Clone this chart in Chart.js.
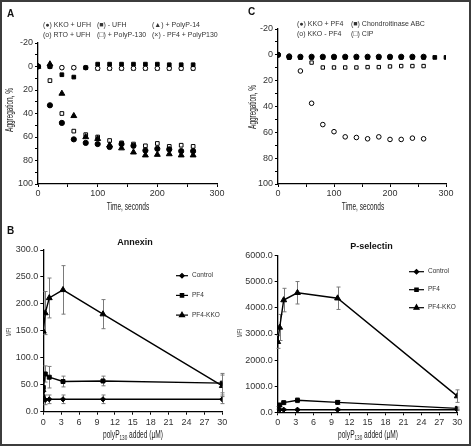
<!DOCTYPE html>
<html><head><meta charset="utf-8">
<script src="https://cdn.jsdelivr.net/npm/chart.js@4.4.1/dist/chart.umd.min.js"></script>
<style>
html,body{margin:0;padding:0;background:#fff;}
#wrap{position:relative;width:471px;height:446px;overflow:hidden;font-family:"Liberation Sans",Arial,sans-serif;color:#222;background:#fff;}
canvas{position:absolute;}
.t{position:absolute;white-space:nowrap;line-height:10px;transform:translateY(-50%);}
.leg{font-size:7px;color:#333;}
.pl{font-size:10px;font-weight:bold;color:#111;}
.ttl{font-size:9px;font-weight:bold;color:#111;transform:translate(-50%,-50%);}
.ax{position:absolute;white-space:nowrap;line-height:1;color:#222;font-size:10px;transform:translate(-50%,-50%) scaleX(0.66);}
.ay{position:absolute;white-space:nowrap;line-height:1;color:#222;font-size:10px;transform:translate(-50%,-50%) rotate(-90deg) scaleX(0.64);}
.ax sub{font-size:7px;vertical-align:-2px;line-height:0;}
#frame{position:absolute;left:0;top:0;width:471px;height:446px;box-sizing:border-box;border:2px solid #3c3c3c;pointer-events:none;}
</style></head><body>
<div id="wrap">
<canvas id="cA" width="235" height="215" style="left:0;top:0"></canvas>
<canvas id="cC" width="236" height="215" style="left:235px;top:0"></canvas>
<canvas id="cB1" width="235" height="231" style="left:0;top:215px"></canvas>
<canvas id="cB2" width="236" height="231" style="left:235px;top:215px"></canvas>

<div class="t pl" style="left:7px;top:13.5px">A</div>
<div class="t pl" style="left:248px;top:12px">C</div>
<div class="t pl" style="left:7px;top:231px">B</div>

<div class="t leg" style="left:43px;top:25px">(●) KKO + UFH</div>
<div class="t leg" style="left:97px;top:25px">(■) - UFH</div>
<div class="t leg" style="left:152px;top:25px">(▲) + PolyP-14</div>
<div class="t leg" style="left:43px;top:35px">(o) RTO + UFH</div>
<div class="t leg" style="left:97px;top:35px">(□) + PolyP-130</div>
<div class="t leg" style="left:152px;top:35px">(×) - PF4 + PolyP130</div>

<div class="t leg" style="left:297px;top:24px">(●) KKO + PF4</div>
<div class="t leg" style="left:351px;top:24px">(■) Chondroitinase ABC</div>
<div class="t leg" style="left:297px;top:34px">(o) KKO - PF4</div>
<div class="t leg" style="left:351px;top:34px">(□) CIP</div>

<div class="t ttl" style="left:135px;top:242px">Annexin</div>
<div class="t ttl" style="left:371.5px;top:245.5px">P-selectin</div>

<div class="ax" style="left:128px;top:207px">Time, seconds</div>
<div class="ax" style="left:363px;top:207px">Time, seconds</div>
<div class="ay" style="left:10px;top:110px">Aggregation, %</div>
<div class="ay" style="left:252.5px;top:107px">Aggregation, %</div>
<div class="ax" style="left:133px;top:435px">polyP<sub>130</sub> added (µM)</div>
<div class="ax" style="left:368px;top:435px">polyP<sub>130</sub> added (µM)</div>
<div class="ay" style="left:8.5px;top:332px;font-size:7.5px">MFI</div>
<div class="ay" style="left:239.5px;top:333px;font-size:7.5px">MFI</div>
<div id="frame"></div>
</div>
<script>
// ---------- Panel A data ----------
const timeA = [0,20,40,60,80,100,120,140,160,180,200,220,240,260];
const kkoUfh      = [0,33,48,62,65,66,68.5,66,67.5,71.5,70,70.5,72,72];
const minusUfh    = [0,0,7,9,1,-2,-2,-2,-2,-2,-2,-1.5,-1.5,-1.5];
const polyP14     = [0,-2,23,42,60,61.5,67,69.5,73,75.5,75,74.5,75.5,75.5];
const rtoUfh      = [0,0,1,1,1,1.5,1.5,1.5,1.5,1.5,1.5,1.5,1.5,1.5];
const polyP130    = [0,12,40,55,58,60,63,65,66,67.5,65.5,68,67,68];
const pf4PolyP130 = [0,0,1,1,1,2,2,2,2,2,2,2,2,2];

// ---------- Panel C data ----------
const timeC = [0,20,40,60,80,100,120,140,160,180,200,220,240,260,280,300];
const kkoPf4      = [0,1.5,1.5,1.5,1.5,1.5,1.5,1.5,1.5,1.5,1.5,1.5,1.5,1.5];
const chondroABC  = [0,2,2,2,2,2,2,2,2,2,2,2,2,2,2,2];
const kkoMinusPf4 = [0,1,12.5,37.5,54,59.5,63.5,64,65,63.5,65.5,65.5,64.5,65];
const cip         = [0,2,2,6,9.8,9.8,9.8,9.8,9.5,9.5,9,8.7,8.7,8.7];

// ---------- Panel B data ----------
const polyPConc = [0,0.33,1,3.3,10,30];
const annexinControl    = [38,22,23,23,23,23];
const annexinControlErr = [0,9,8,8,8,8];
const annexinPF4        = [45,70,64,56,57,53];
const annexinPF4Err     = [0,15,20,10,9,18];
const annexinPF4KKO     = [149,183,211,226,181,48];
const annexinPF4KKOErr  = [0,40,37,45,27,20];

const pselControl    = [150,100,100,100,100,100];
const pselControlErr = [0,30,30,30,30,30];
const pselPF4        = [170,280,370,460,380,150];
const pselPF4Err     = [50,60,50,90,70,50];
const pselPF4KKO     = [2700,3250,4300,4580,4370,620];
const pselPF4KKOErr  = [250,500,450,430,430,240];

const seriesLabelsB = ['Control','PF4','PF4-KKO'];

// ---------- helpers ----------
const FAM = '"Liberation Sans", Arial, sans-serif';
const pts = (xs, ys) => ys.map((y,i)=>({x:xs[i], y}));

const errorBars = {
  id:'errorBars',
  beforeDatasetsDraw(chart){
    const ctx = chart.ctx, xs = chart.scales.x, ys = chart.scales.y;
    ctx.save();
    ctx.strokeStyle = '#7a7a7a'; ctx.lineWidth = 1;
    chart.data.datasets.forEach(ds=>{
      if(!ds.errors) return;
      ds.data.forEach((p,i)=>{
        const e = ds.errors[i]; if(!e) return;
        const px = Math.round(xs.getPixelForValue(p.x))+0.5;
        const yt = ys.getPixelForValue(p.y+e), yb = ys.getPixelForValue(p.y-e);
        ctx.beginPath();
        ctx.moveTo(px,yt); ctx.lineTo(px,yb);
        ctx.moveTo(px-2,yt); ctx.lineTo(px+2,yt);
        ctx.moveTo(px-2,yb); ctx.lineTo(px+2,yb);
        ctx.stroke();
      });
    });
    ctx.restore();
  }
};

const lineLegend = {
  id:'lineLegend',
  afterDraw(chart, args, o){
    if(!o || !o.display) return;
    const ctx = chart.ctx;
    ctx.save();
    chart.data.datasets.forEach((ds,i)=>{
      const y = o.y + i*o.dy;
      ctx.strokeStyle='#000'; ctx.lineWidth=1.2;
      ctx.beginPath(); ctx.moveTo(o.x,y); ctx.lineTo(o.x+o.len,y); ctx.stroke();
      ctx.fillStyle='#000'; ctx.strokeStyle='#000';
      Chart.helpers.drawPoint(ctx,{pointStyle:ds.pointStyle,radius:ds.pointRadius*0.85,borderWidth:1,rotation:0},o.x+o.len/2,y);
      ctx.fillStyle='#333'; ctx.font='6.5px '+FAM; ctx.textBaseline='middle'; ctx.textAlign='left';
      ctx.fillText(ds.label, o.x+o.len+4, y);
    });
    ctx.restore();
  }
};

function scat(label, xs, ys, style, filled, r){
  return {label, data:pts(xs,ys), pointStyle:style, pointRadius:r,
    backgroundColor: filled?'#000':'#fff', borderColor:'#000', borderWidth:1, showLine:false};
}

function aggOptions(padTop, padRight, xAxisH, yAxisW){
  return {
    responsive:false, animation:false, events:[],
    layout:{padding:{top:padTop,right:padRight,left:0,bottom:0}},
    plugins:{legend:{display:false},tooltip:{enabled:false}},
    scales:{
      x:{type:'linear',min:0,max:300,
        afterFit:s=>{s.height=xAxisH;},
        ticks:{stepSize:50,autoSkip:false,maxRotation:0,padding:1,color:'#333',font:{size:9,family:FAM},
          callback:v=>v%100===0?String(v):''},
        grid:{display:true,drawOnChartArea:false,drawTicks:true,tickLength:3,color:'#000',lineWidth:1},
        border:{display:true,color:'#000',width:1.3},
        title:{display:false}
      },
      y:{type:'linear',min:-20,max:100,reverse:true,
        afterFit:s=>{s.width=yAxisW;},
        ticks:{stepSize:10,autoSkip:false,padding:2,color:'#333',font:{size:9,family:FAM},
          callback:v=>v%20===0?String(v):''},
        grid:{display:true,drawOnChartArea:false,drawTicks:true,tickLength:3,color:'#000',lineWidth:1},
        border:{display:true,color:'#000',width:1.3},
        title:{display:false}
      }
    }
  };
}

// ---------- Panel A ----------
new Chart(document.getElementById('cA'),{
  type:'scatter',
  data:{datasets:[
    scat('KKO + UFH', timeA, kkoUfh, 'circle', true, 2.6),
    scat('- UFH', timeA, minusUfh, 'rect', true, 2.6),
    scat('+ PolyP-14', timeA, polyP14, 'triangle', true, 3.4),
    scat('RTO + UFH', timeA, rtoUfh, 'circle', false, 2.3),
    scat('+ PolyP-130', timeA, polyP130, 'rect', false, 2.6),
    scat('- PF4 + PolyP130', timeA, pf4PolyP130, 'crossRot', false, 2.6)
  ]},
  options:aggOptions(43,18,31,38)
});

// ---------- Panel C ----------
new Chart(document.getElementById('cC'),{
  type:'scatter',
  data:{datasets:[
    scat('KKO + PF4', timeC, kkoPf4, 'circle', true, 2.6),
    scat('Chondroitinase ABC', timeC, chondroABC, 'rect', true, 2.6),
    scat('KKO - PF4', timeC, kkoMinusPf4, 'circle', false, 2.3),
    scat('CIP', timeC, cip, 'rect', false, 2.4)
  ]},
  options:aggOptions(29,25,31,43)
});

// ---------- Panel B ----------
function lineDs(label, ys, errs, style, r){
  return {label, data:pts(polyPConc, ys), errors:errs, pointStyle:style, pointRadius:r,
    backgroundColor:'#000', borderColor:'#000', borderWidth:1.4, pointBorderWidth:1,
    showLine:true, tension:0};
}
function mfiOptions(padTop, padRight, xAxisH, yAxisW, yMax, yStep, leg){
  return {
    responsive:false, animation:false, events:[],
    layout:{padding:{top:padTop,right:padRight,left:0,bottom:0}},
    plugins:{legend:{display:false},tooltip:{enabled:false},lineLegend:leg},
    scales:{
      x:{type:'linear',min:0,max:30,
        afterFit:s=>{s.height=xAxisH;},
        ticks:{stepSize:3,autoSkip:false,maxRotation:0,padding:2,color:'#333',font:{size:9,family:FAM}},
        grid:{display:true,drawOnChartArea:false,drawTicks:true,tickLength:3,color:'#000',lineWidth:1},
        border:{display:true,color:'#000',width:1.3},
        title:{display:false}
      },
      y:{type:'linear',min:0,max:yMax,
        afterFit:s=>{s.width=yAxisW;},
        ticks:{stepSize:yStep,autoSkip:false,padding:2,color:'#333',font:{size:9,family:FAM},
          callback:v=>Number(v).toFixed(1)},
        grid:{display:true,drawOnChartArea:false,drawTicks:true,tickLength:3,color:'#000',lineWidth:1},
        border:{display:true,color:'#000',width:1.3},
        title:{display:false}
      }
    }
  };
}

new Chart(document.getElementById('cB1'),{
  type:'scatter',
  data:{datasets:[
    lineDs(seriesLabelsB[0], annexinControl, annexinControlErr, 'rectRot', 2.6),
    lineDs(seriesLabelsB[1], annexinPF4, annexinPF4Err, 'rect', 2.8),
    lineDs(seriesLabelsB[2], annexinPF4KKO, annexinPF4KKOErr, 'triangle', 3.4)
  ]},
  options:mfiOptions(35,12.7,34.3,43.3,300,50,{display:true,x:176,y:60.7,dy:19.7,len:12}),
  plugins:[errorBars,lineLegend]
});

new Chart(document.getElementById('cB2'),{
  type:'scatter',
  data:{datasets:[
    lineDs(seriesLabelsB[0], pselControl, pselControlErr, 'rectRot', 2.6),
    lineDs(seriesLabelsB[1], pselPF4, pselPF4Err, 'rect', 2.8),
    lineDs(seriesLabelsB[2], pselPF4KKO, pselPF4KKOErr, 'triangle', 3.4)
  ]},
  options:mfiOptions(40.7,13.7,33.7,42.7,6000,1000,{display:true,x:174,y:56.7,dy:18,len:15}),
  plugins:[errorBars,lineLegend]
});
</script>
</body></html>
